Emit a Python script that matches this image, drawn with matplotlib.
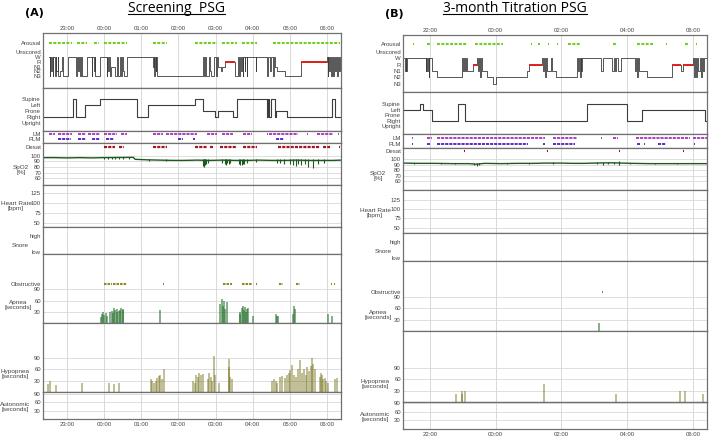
import matplotlib
matplotlib.use("Agg")
import matplotlib.pyplot as plt
from matplotlib.lines import Line2D

plt.rcParams["font.family"] = ["Liberation Sans", "DejaVu Sans"]

# ---------------- data: (A) screening PSG ----------------
stages = ["W", "R", "N1", "N2", "N3"]
positions = ["Supine", "Left", "Prone", "Right", "Upright"]

hypno_a = [("22:31", "W"), ("22:32", "N3"), ("22:33", "W"), ("22:34", "N2"), ("22:35", "W"), ("22:37", "N3"),
           ("22:38", "W"), ("22:40", "N3"), ("22:42", "W"), ("22:43", "N2"), ("22:45", "W"), ("22:46", "N3"),
           ("22:48", "N2"), ("22:52", "W"), ("22:54", "N3"), ("23:01", "W"), ("23:15", "N3"), ("23:16", "W"),
           ("23:18", "N2"), ("23:19", "W"), ("23:21", "N3"), ("23:22", "W"), ("23:24", "N3"), ("23:32", "W"),
           ("23:40", "N3"), ("23:41", "W"), ("23:43", "N2"), ("23:45", "W"), ("23:46", "N3"), ("23:53", "W"),
           ("00:04", "N3"), ("00:05", "W"), ("00:07", "N2"), ("00:08", "W"), ("00:10", "N3"), ("00:11", "N1"),
           ("00:17", "N3"), ("00:21", "W"), ("00:22", "N3"), ("00:26", "W"), ("00:27", "N3"), ("00:29", "W"),
           ("00:30", "N2"), ("00:32", "N3"), ("00:37", "W"), ("01:19", "N1"), ("01:20", "W"), ("01:21", "N3"),
           ("01:22", "W"), ("01:23", "N2"), ("01:24", "W"), ("01:25", "N3"), ("02:40", "W"), ("02:41", "N3"),
           ("02:43", "W"), ("02:44", "N3"), ("02:50", "W"), ("02:51", "N2"), ("02:52", "N3"), ("02:58", "W"),
           ("03:00", "N3"), ("03:02", "W"), ("03:04", "N1"), ("03:08", "N2"), ("03:10", "N1"), ("03:15", "R"),
           ("03:31", "N3"), ("03:36", "W"), ("03:38", "N3"), ("03:39", "W"), ("03:41", "N2"), ("03:42", "W"),
           ("03:44", "N3"), ("03:45", "W"), ("03:47", "N2"), ("03:48", "W"), ("03:50", "N3"), ("03:51", "W"),
           ("04:05", "N2"), ("04:06", "W"), ("04:23", "N3"), ("04:24", "W"), ("04:28", "N2"), ("04:29", "W"),
           ("04:33", "N3"), ("04:34", "W"), ("04:36", "N1"), ("04:39", "N2"), ("04:52", "N3"), ("05:18", "R"),
           ("06:00", "W"), ("06:01", "N3"), ("06:02", "W"), ("06:04", "N2"), ("06:05", "W"), ("06:07", "N3"),
           ("06:08", "W"), ("06:10", "N3"), ("06:11", "W"), ("06:13", "N2"), ("06:14", "W"), ("06:16", "N3"),
           ("06:17", "W"), ("06:19", "N2"), ("06:21", "W"), ("06:22", "W")]

position_a = [("22:21", "Right"), ("23:10", "Supine"), ("23:15", "Right"), ("23:29", "Left"), ("23:53", "Supine"),
              ("00:53", "Right"), ("01:11", "Left"), ("02:27", "Supine"), ("02:40", "Prone"), ("02:59", "Right"),
              ("03:04", "Prone"), ("03:28", "Right"), ("03:35", "Supine"), ("04:23", "Right"), ("04:25", "Supine"),
              ("04:27", "Right"), ("04:29", "Supine"), ("04:36", "Right"), ("04:38", "Prone"), ("04:55", "Right"),
              ("06:08", "Supine"), ("06:13", "Right"), ("06:23", "Right")]

arousal_a = [("22:31", "23:08"), ("23:16", "23:32"), ("23:44", "23:52"), ("00:00", "00:37"), ("01:19", "01:42"),
             ("02:27", "02:46"), ("02:48", "03:02"), ("03:10", "03:35"), ("03:43", "04:07"), ("04:33", "06:21")]
lm_a = [("22:31", "22:41"), ("22:45", "23:08"), ("23:18", "23:31"), ("23:34", "23:53"), ("00:00", "00:21"),
        ("00:27", "00:37"), ("01:19", "01:35"), ("01:40", "02:30"), ("02:46", "03:02"), ("03:10", "03:28"),
        ("03:44", "03:59"), ("04:23", "04:25"), ("04:26", "05:13"), ("05:28", "05:30"), ("05:44", "06:10"),
        ("06:18", "06:20")]
plm_a = [("22:45", "23:06"), ("23:18", "23:31"), ("23:40", "23:53"), ("00:03", "00:16"), ("01:59", "02:07"),
         ("02:23", "02:27"), ("04:38", "04:51")]
desat_a = [("00:00", "00:18"), ("00:24", "00:32"), ("01:19", "01:42"), ("02:27", "02:46"), ("02:51", "02:56"),
           ("03:07", "03:35"), ("03:44", "04:07"), ("04:41", "05:49"), ("05:54", "06:05"), ("06:19", "06:21")]

spo2_a_t = ["22:21", "22:40", "23:00", "23:20", "23:40", "23:58", "00:47", "00:50", "01:10", "01:30", "01:50",
            "02:10", "02:30", "02:50", "03:10", "03:30", "03:50", "04:10", "04:30", "04:50", "05:10", "05:30",
            "05:50", "06:10", "06:22"]
spo2_a = [97, 97, 96.5, 97, 96.5, 97, 97.5, 94, 93, 92.5, 92, 92, 92.5, 92, 92.5, 92, 92, 92.5, 92, 92, 92.5,
          92, 92, 92, 92.5]
# (time, lowest, highest) of the short SpO2 excursions
spo2_dips_a = [("00:00", 95, 99), ("00:06", 95, 99), ("00:12", 94, 99), ("00:18", 95, 99), ("00:24", 95, 99),
               ("00:30", 94, 99), ("00:40", 95, 99), ("01:12", 90, 94), ("01:40", 90, 94), ("02:40", 82, 95),
               ("02:41", 86, 95), ("02:42", 80, 95), ("02:43", 84, 95), ("02:45", 85, 95), ("02:47", 88, 94),
               ("03:10", 88, 94), ("03:15", 86, 95), ("03:17", 84, 95), ("03:19", 87, 95), ("03:21", 85, 95),
               ("03:24", 87, 94), ("03:38", 86, 95), ("03:40", 84, 95), ("03:42", 83, 95), ("03:44", 85, 95),
               ("03:46", 86, 95), ("03:50", 88, 94), ("04:05", 89, 94), ("04:40", 88, 94), ("04:44", 87, 94),
               ("04:50", 86, 95), ("05:00", 85, 95), ("05:05", 84, 95), ("05:10", 82, 95), ("05:13", 85, 95),
               ("05:18", 84, 95), ("05:25", 86, 95), ("05:30", 80, 95), ("05:38", 78, 95), ("05:45", 86, 95),
               ("05:55", 88, 94)]

apnea_a = [("23:55", 15), ("23:57", 25), ("23:58", 30), ("00:00", 22), ("00:03", 28), ("00:05", 20),
           ("00:10", 30), ("00:12", 32), ("00:14", 28), ("00:16", 40), ("00:17", 35), ("00:20", 30),
           ("00:21", 38), ("00:24", 32), ("00:26", 35), ("00:28", 40), ("00:30", 38), ("00:31", 36),
           ("01:30", 35), ("03:07", 50), ("03:10", 65), ("03:12", 45), ("03:14", 58), ("03:16", 38),
           ("03:18", 55), ("03:39", 30), ("03:40", 25), ("03:42", 40), ("03:44", 45), ("03:46", 35),
           ("03:48", 42), ("03:49", 30), ("03:51", 38), ("03:52", 40), ("04:00", 18), ("04:38", 25),
           ("04:39", 20), ("04:41", 18), ("05:05", 25), ("05:06", 45), ("05:08", 38), ("06:02", 25),
           ("06:08", 18)]
obstructive_a = [("00:00", "00:13"), ("00:14", "00:37"), ("01:35", "01:36"), ("03:12", "03:26"),
                 ("03:43", "03:59"), ("04:05", "04:06"), ("04:42", "04:49"), ("05:10", "05:16"),
                 ("06:06", "06:08"), ("06:11", "06:13")]
hypopnea_a = [("22:30", 20), ("22:32", 28), ("22:42", 18), ("23:25", 25), ("00:08", 23), ("00:16", 22),
              ("00:24", 25), ("01:15", 35), ("01:18", 30), ("01:21", 25), ("01:23", 28), ("01:25", 38),
              ("01:28", 42), ("01:30", 45), ("01:33", 35), ("01:36", 62), ("02:23", 28), ("02:26", 25),
              ("02:28", 45), ("02:31", 40), ("02:34", 50), ("02:36", 45), ("02:39", 48), ("02:47", 35),
              ("02:49", 50), ("02:52", 40), ("02:55", 30), ("02:57", 95), ("02:59", 45), ("03:06", 25),
              ("03:21", 65), ("03:22", 88), ("03:24", 40), ("03:27", 35), ("04:31", 28), ("04:34", 35),
              ("04:38", 30), ("04:40", 25), ("04:44", 40), ("04:48", 42), ("04:52", 38), ("04:56", 45),
              ("04:59", 50), ("05:01", 58), ("05:04", 72), ("05:07", 45), ("05:10", 40), ("05:13", 60),
              ("05:16", 85), ("05:19", 50), ("05:23", 60), ("05:26", 45), ("05:28", 65), ("05:31", 55),
              ("05:34", 70), ("05:36", 90), ("05:38", 75), ("05:41", 60), ("05:48", 40), ("05:50", 50),
              ("05:52", 45), ("05:54", 35), ("05:57", 38), ("05:59", 30), ("06:02", 25), ("06:13", 35),
              ("06:16", 38)]

# ---------------- data: (B) 3-month titration PSG ----------------
hypno_b = [("21:13", "W"), ("21:14", "N1"), ("21:16", "W"), ("21:17", "N1"), ("21:18", "W"), ("21:52", "N1"),
           ("21:53", "W"), ("21:55", "N1"), ("21:56", "W"), ("21:58", "N2"), ("21:59", "W"), ("22:04", "N1"),
           ("22:13", "N2"), ("22:58", "W"), ("23:00", "N1"), ("23:02", "W"), ("23:04", "N1"), ("23:06", "W"),
           ("23:08", "N1"), ("23:18", "R"), ("23:25", "W"), ("23:27", "N1"), ("23:29", "W"), ("23:31", "N2"),
           ("23:33", "W"), ("23:35", "N1"), ("23:44", "N2"), ("23:55", "N3"), ("00:01", "N2"), ("00:57", "N1"),
           ("01:00", "R"), ("01:24", "W"), ("01:26", "N1"), ("01:28", "W"), ("01:30", "N2"), ("01:32", "W"),
           ("01:34", "N1"), ("01:40", "W"), ("01:42", "N1"), ("01:50", "N2"), ("02:28", "W"), ("02:30", "N1"),
           ("02:32", "W"), ("02:33", "N2"), ("02:35", "W"), ("02:36", "N1"), ("02:38", "W"), ("03:13", "N1"),
           ("03:15", "W"), ("03:33", "N1"), ("03:35", "W"), ("03:38", "N1"), ("03:40", "W"), ("03:43", "N1"),
           ("03:48", "W"), ("04:14", "N1"), ("04:16", "W"), ("04:18", "N2"), ("04:20", "W"), ("04:22", "N1"),
           ("04:36", "N2"), ("05:21", "R"), ("05:39", "N1"), ("05:41", "R"), ("06:00", "W"), ("06:02", "N2"),
           ("06:04", "W"), ("06:06", "N2"), ("06:08", "W"), ("06:10", "N1"), ("06:12", "W"), ("06:14", "N2"),
           ("06:16", "W"), ("06:18", "N1"), ("06:20", "W"), ("06:25", "W")]

position_b = [("21:11", "Left"), ("21:42", "Supine"), ("21:47", "Left"), ("22:04", "Right"), ("22:51", "Supine"),
              ("23:04", "Right"), ("02:46", "Supine"), ("03:59", "Right"), ("04:27", "Left"), ("06:21", "Right"),
              ("06:26", "Right")]

arousal_b = [("21:29", "21:31"), ("21:54", "22:00"), ("22:12", "23:07"), ("23:22", "00:14"), ("01:05", "01:07"),
             ("01:18", "01:20"), ("01:35", "01:37"), ("01:52", "01:54"), ("02:12", "02:34"), ("03:34", "03:41"),
             ("04:18", "04:47"), ("05:11", "05:13"), ("05:45", "05:51"), ("06:06", "06:08")]
lm_b = [("21:27", "21:29"), ("21:54", "22:03"), ("22:13", "01:02"), ("01:05", "01:30"), ("01:44", "02:28"),
        ("03:12", "03:14"), ("03:34", "03:43"), ("04:16", "05:54"), ("06:00", "06:26")]
plm_b = [("21:27", "21:29"), ("21:54", "22:00"), ("22:13", "00:59"), ("01:27", "01:29"), ("01:44", "02:24"),
         ("04:18", "04:23"), ("04:31", "04:33"), ("04:56", "05:10"), ("06:02", "06:04")]
desat_b = [("23:02", "23:03"), ("01:33", "01:34"), ("03:45", "03:46"), ("05:42", "05:43")]

spo2_b_t = ["21:11", "21:40", "22:10", "22:40", "23:10", "23:25", "23:40", "00:10", "00:40", "01:10", "01:30",
            "02:00", "02:20", "02:40", "03:00", "03:30", "03:50", "04:10", "04:40", "05:10", "05:40", "06:10",
            "06:25"]
spo2_b = [93, 92.5, 92.5, 92, 92, 91, 92.5, 92, 92.5, 92.5, 93, 93, 92.5, 92.5, 93, 93.5, 93, 92.5, 92, 92,
          92, 92, 92]
spo2_dips_b = [("21:30", 91, 94), ("22:20", 91, 94), ("22:45", 91, 94), ("23:20", 89, 94), ("23:25", 88, 93),
               ("23:30", 89, 93), ("00:20", 91, 94), ("01:00", 91, 94), ("01:45", 91, 95), ("03:05", 91, 95),
               ("03:15", 90, 95), ("03:25", 91, 95), ("03:35", 91, 95), ("03:45", 90, 96), ("04:05", 91, 94),
               ("04:50", 91, 94), ("05:30", 91, 94)]

apnea_b = [("03:08", 21)]
obstructive_b = [("03:14", "03:15")]
hypopnea_b = [("22:47", 22), ("22:58", 28), ("22:59", 20), ("23:04", 30), ("01:28", 48), ("03:40", 20),
              ("05:36", 30), ("05:45", 30), ("06:18", 20)]

# ---------------- layout ----------------
W, H = 709, 436
fig = plt.figure(figsize=(W / 100, H / 100), dpi=100)

GRID = "#d9d9d9"
SPINE = "#707070"
TXT = "#444444"
TICK_FS = 4.3


def t2h(s):
    hh, mm = map(int, s.split(":"))
    return hh + mm / 60 - (24 if hh >= 12 else 0)


def add_ax(x0, x1, y0, y1, xlim, ylim, vgrid):
    ax = fig.add_axes([x0 / W, 1 - y1 / H, (x1 - x0) / W, (y1 - y0) / H])
    ax.set_xlim(*xlim)
    ax.set_ylim(*ylim)
    ax.set_xticks([])
    for v in vgrid:
        ax.axvline(v, color=GRID, lw=0.7, zorder=0)
    for sp in ax.spines.values():
        sp.set_color(SPINE)
        sp.set_linewidth(0.9)
    ax.tick_params(axis="y", length=0, pad=1.5, labelsize=TICK_FS, labelcolor=TXT)
    return ax


def hgrid(ax, vals):
    for v in vals:
        ax.axhline(v, color=GRID, lw=0.6, zorder=0)


def intervals(ax, ivals, y, color, lw=1.6, dash=(1.4, 0.7)):
    for s, e in ivals:
        h0, h1 = t2h(s), t2h(e)
        h1 = max(h1, h0 + 0.025)
        ax.plot([h0, h1], [y, y], color=color, lw=lw, ls=(0, dash), dash_capstyle="butt",
                solid_capstyle="butt")


def steps(ax, seq, levels, color, lw):
    ts = [t2h(t) for t, _ in seq]
    ys = [levels.index(s) for _, s in seq]
    ax.step(ts, ys, where="post", color=color, lw=lw)
    return ts, ys


def side_label(x, y, text):
    fig.text(x / W, 1 - y / H, text, ha="center", va="center", fontsize=4.6, color=TXT, linespacing=0.95)


def draw_panel(cfg, hypno, position, arousal, lm, plm, desat, spo2_t, spo2, dips,
               apnea, obstr, hypop):
    x0, x1, xl, vg = cfg["x0"], cfg["x1"], cfg["xlim"], cfg["vgrid"]
    r = cfg["rows"]

    # hypnogram
    ax = add_ax(x0, x1, *r["hyp"], xl, cfg["hyp_ylim"], vg)
    ts, ys = steps(ax, hypno, stages, "#3c3c3c", 0.6)
    for i in range(len(hypno) - 1):
        if hypno[i][1] == "R":
            ax.plot([ts[i], ts[i + 1]], [1, 1], color="#e0201c", lw=1.4, solid_capstyle="butt")
    intervals(ax, arousal, cfg["arousal_y"], "#6fcf1f", lw=1.5)
    ax.set_yticks([cfg["arousal_y"], cfg["unscored_y"], 0, 1, 2, 3, 4],
                  ["Arousal", "Unscored"] + stages)
    ax.xaxis.set_ticks_position("top")
    ax.set_xticks(cfg["xticks"], cfg["xlabels"])
    ax.tick_params(axis="x", length=0, pad=1.5, labelsize=TICK_FS, labelcolor=TXT)

    # body position
    ax = add_ax(x0, x1, *r["pos"], xl, cfg["pos_ylim"], vg)
    steps(ax, position, positions, "#3c3c3c", 0.8)
    ax.set_yticks(range(5), positions)

    # leg movements
    ax = add_ax(x0, x1, *r["lm"], xl, cfg["lm_ylim"], vg)
    intervals(ax, lm, 0, "#b03cc8", lw=1.4, dash=(1.6, 0.5))
    intervals(ax, plm, 1, "#5a2ccc", lw=1.4, dash=(1.6, 0.5))
    ax.set_yticks([0, 1], ["LM", "PLM"])

    # desaturation + SpO2
    ax = add_ax(x0, x1, *r["spo2"], xl, cfg["spo2_ylim"], vg)
    hgrid(ax, [100, 90, 80, 70, 60])
    intervals(ax, desat, cfg["desat_y"], "#a3171c", lw=1.6, dash=(1.4, 0.5))
    ax.plot([t2h(t) for t in spo2_t], spo2, color="#1e5a1e", lw=1.0)
    ax.vlines([t2h(t) for t, _, _ in dips], [d[1] for d in dips], [d[2] for d in dips],
              color="#1e5a1e", lw=0.8)
    ax.set_yticks([cfg["desat_y"], 100, 90, 80, 70, 60], ["Desat", "100", "90", "80", "70", "60"])

    # heart rate
    ax = add_ax(x0, x1, *r["hr"], xl, cfg["hr_ylim"], vg)
    hgrid(ax, [125, 100, 75, 50])
    ax.set_yticks([125, 100, 75, 50], ["125", "100", "75", "50"])

    # snore
    ax = add_ax(x0, x1, *r["snore"], xl, cfg["snore_ylim"], vg)
    ax.set_yticks([1, 0], ["high", "low"])

    # apnea
    ax = add_ax(x0, x1, *r["apnea"], xl, cfg["apnea_ylim"], vg)
    hgrid(ax, [30, 60, 90])
    ax.vlines([t2h(t) for t, _ in apnea], 0, [d for _, d in apnea], color="#23702a", lw=1.2, alpha=0.65)
    intervals(ax, obstr, 104, "#8c8a1c", lw=1.5, dash=(1.2, 0.5))
    ax.set_yticks([104, 90, 60, 30], ["Obstructive", "90", "60", "30"])

    # hypopnea
    ax = add_ax(x0, x1, *r["hypop"], xl, cfg["hypop_ylim"], vg)
    hgrid(ax, [30, 60, 90])
    ax.vlines([t2h(t) for t, _ in hypop], 0, [d for _, d in hypop], color="#75741a", lw=1.3, alpha=0.5)
    ax.set_yticks([90, 60, 30], ["90", "60", "30"])

    # autonomic
    ax = add_ax(x0, x1, *r["auto"], xl, cfg["auto_ylim"], vg)
    hgrid(ax, [30, 60, 90])
    ax.set_yticks([90, 60, 30], ["90", "60", "30"])
    ax.set_xticks(cfg["xticks"], cfg["xlabels"])
    ax.tick_params(axis="x", length=0, pad=2, labelsize=TICK_FS, labelcolor=TXT)

    for key, txt in [("spo2", "SpO2\n[%]"), ("hr", "Heart Rate\n[bpm]"), ("snore", "Snore"),
                     ("apnea", "Apnea\n[seconds]"), ("hypop", "Hypopnea\n[seconds]"),
                     ("auto", "Autonomic\n[seconds]")]:
        side_label(*cfg["labels"][key], txt)


cfg_a = dict(
    x0=43, x1=341, xlim=(-1.646, 6.377), vgrid=range(-1, 7),
    xticks=list(range(-1, 7)), xlabels=["23:00", "00:00", "01:00", "02:00", "03:00", "04:00", "05:00", "06:00"],
    rows=dict(hyp=(33, 88), pos=(88, 131), lm=(131, 143), spo2=(143, 185), hr=(185, 227), snore=(227, 254),
              apnea=(254, 323), hypop=(323, 392), auto=(392, 419)),
    hyp_ylim=(6.67, -5.28), arousal_y=-3.1, unscored_y=-1.15,
    pos_ylim=(5.33, -1.83), lm_ylim=(1.74, -0.66),
    spo2_ylim=(47.3, 123.6), desat_y=116.9, hr_ylim=(39, 146.2), snore_ylim=(-0.146, 1.57),
    apnea_ylim=(0, 185), hypop_ylim=(0, 183), auto_ylim=(0, 97),
    labels=dict(spo2=(21, 170), hr=(16, 206), snore=(20, 245), apnea=(18, 305), hypop=(15, 374),
                auto=(15, 407)),
)
cfg_b = dict(
    x0=403, x1=707, xlim=(-2.821, 6.426), vgrid=[-2, 0, 2, 4, 6],
    xticks=[-2, 0, 2, 4, 6], xlabels=["22:00", "00:00", "02:00", "04:00", "06:00"],
    rows=dict(hyp=(35, 92), pos=(92, 134), lm=(134, 148), spo2=(148, 190), hr=(190, 233), snore=(233, 261),
              apnea=(261, 331), hypop=(331, 402), auto=(402, 429)),
    hyp_ylim=(5.27, -3.64), arousal_y=-2.19, unscored_y=-0.94,
    pos_ylim=(5.45, -2.18), lm_ylim=(1.62, -0.72),
    spo2_ylim=(43.4, 120.8), desat_y=115.9, hr_ylim=(35.6, 152), snore_ylim=(-0.16, 1.52),
    apnea_ylim=(0, 185.7), hypop_ylim=(0, 188), auto_ylim=(-2, 95),
    labels=dict(spo2=(378, 176), hr=(375, 213), snore=(383, 251), apnea=(378, 315), hypop=(375, 384),
                auto=(375, 417)),
)

draw_panel(cfg_a, hypno_a, position_a, arousal_a, lm_a, plm_a, desat_a, spo2_a_t, spo2_a, spo2_dips_a,
           apnea_a, obstructive_a, hypopnea_a)
draw_panel(cfg_b, hypno_b, position_b, arousal_b, lm_b, plm_b, desat_b, spo2_b_t, spo2_b, spo2_dips_b,
           apnea_b, obstructive_b, hypopnea_b)

# panel letters and underlined titles
fig.text(34 / W, 1 - 13 / H, "(A)", ha="center", va="center", fontsize=8, fontweight="bold",
         family="DejaVu Sans")
fig.text(394 / W, 1 - 14 / H, "(B)", ha="center", va="center", fontsize=8, fontweight="bold",
         family="DejaVu Sans")
titles = [fig.text(176 / W, 1 - 8.5 / H, "Screening  PSG", ha="center", va="center", fontsize=10,
                   family="Open Sans"),
          fig.text(515 / W, 1 - 8.5 / H, "3-month Titration PSG", ha="center", va="center", fontsize=10,
                   family="Open Sans")]
fig.canvas.draw()
for t in titles:
    bb = t.get_window_extent()
    fig.add_artist(Line2D([bb.x0 / W, bb.x1 / W], [1 - 14.3 / H] * 2, color="black", lw=0.8))

fig.savefig("out.png", dpi=100)
